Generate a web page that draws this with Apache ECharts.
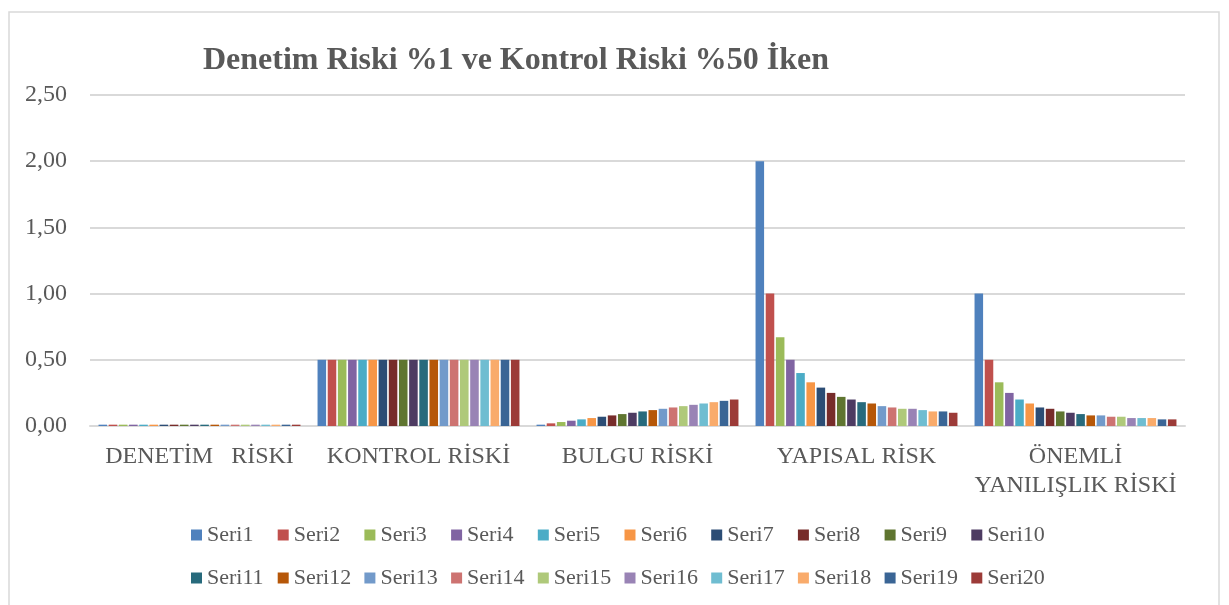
<!DOCTYPE html>
<html><head><meta charset="utf-8">
<script src="https://cdn.jsdelivr.net/npm/echarts@6/dist/echarts.min.js"></script>
<style>html,body{margin:0;padding:0;background:#fff}#c{width:1229px;height:605px}</style>
</head><body><div id="c"></div>
<script>
const categories = ['DENETİM   RİSKİ', 'KONTROL RİSKİ', 'BULGU RİSKİ', 'YAPISAL RİSK', 'ÖNEMLİ\nYANILIŞLIK RİSKİ'];
const seriesNames = ['Seri1','Seri2','Seri3','Seri4','Seri5','Seri6','Seri7','Seri8','Seri9','Seri10','Seri11','Seri12','Seri13','Seri14','Seri15','Seri16','Seri17','Seri18','Seri19','Seri20'];
const denetimRiski = [0.01,0.01,0.01,0.01,0.01,0.01,0.01,0.01,0.01,0.01,0.01,0.01,0.01,0.01,0.01,0.01,0.01,0.01,0.01,0.01];
const kontrolRiski = [0.5,0.5,0.5,0.5,0.5,0.5,0.5,0.5,0.5,0.5,0.5,0.5,0.5,0.5,0.5,0.5,0.5,0.5,0.5,0.5];
const bulguRiski = [0.01,0.02,0.03,0.04,0.05,0.06,0.07,0.08,0.09,0.10,0.11,0.12,0.13,0.14,0.15,0.16,0.17,0.18,0.19,0.20];
const yapisalRisk = [2.00,1.00,0.67,0.50,0.40,0.33,0.29,0.25,0.22,0.20,0.18,0.17,0.15,0.14,0.13,0.13,0.12,0.11,0.11,0.10];
const onemliYanlislik = [1.00,0.50,0.33,0.25,0.20,0.17,0.14,0.13,0.11,0.10,0.09,0.08,0.08,0.07,0.07,0.06,0.06,0.06,0.05,0.05];
const yTicks = ['0,00','0,50','1,00','1,50','2,00','2,50'];
const colors = ['#4F81BD','#C0504D','#9BBB59','#8064A2','#4BACC6','#F79646','#2C4D75','#772C2A','#5F7530','#4D3B62','#276A7C','#B65708','#729ACA','#CD7371','#AFC97A','#9983B5','#6FBDD1','#F9AB6B','#3A6595','#9C3B38'];

const F = '"Liberation Serif","Times New Roman",serif';
const TXT = '#595959';
const series = seriesNames.map((n, i) => ({
  name: n, type: 'bar',
  data: [denetimRiski[i], kontrolRiski[i], bulguRiski[i], yapisalRisk[i], onemliYanlislik[i]],
  barGap: '19%', barCategoryGap: '7.8%',
  itemStyle: { color: colors[i] }
}));
const legends = seriesNames.map((n, i) => ({
  data: [n],
  left: 186 + (i % 10) * 86.7,
  top: i < 10 ? 519 : 562,
  itemWidth: 11, itemHeight: 11, itemGap: 0, icon: 'rect',
  formatter: '{s|{name}}',
  textStyle: { fontFamily: F, fontSize: 22, color: TXT,
    rich: { s: { fontFamily: F, fontSize: 22, color: TXT } } }
}));
const chart = echarts.init(document.getElementById('c'));
chart.setOption({
  animation: false,
  color: colors,
  textStyle: { fontFamily: F },
  title: { text: 'Denetim Riski %1 ve Kontrol Riski %50 İken', left: 198, top: 40,
    textStyle: { fontFamily: F, fontWeight: 'bold', fontSize: 32, color: TXT } },
  grid: { left: 90, right: 44, top: 95, bottom: 179 },
  legend: legends,
  xAxis: { type: 'category', data: categories,
    axisLine: { lineStyle: { color: '#d9d9d9', width: 2 } }, axisTick: { show: false },
    axisLabel: { interval: 0, fontFamily: F, fontSize: 24, color: TXT, margin: 16, lineHeight: 29 } },
  yAxis: { type: 'value', min: 0, max: 2.5, interval: 0.5,
    axisLine: { show: false }, axisTick: { show: false },
    splitLine: { lineStyle: { color: '#d9d9d9', width: 2 } },
    axisLabel: { fontFamily: F, fontSize: 24, color: TXT, margin: 23,
      formatter: v => yTicks[Math.round(v / 0.5)] } },
  graphic: [{ type: 'rect', shape: { x: 9, y: 12, width: 1210, height: 610 },
    style: { fill: 'none', stroke: '#d9d9d9', lineWidth: 1.5 }, silent: true }],
  series: series
});
</script></body></html>
